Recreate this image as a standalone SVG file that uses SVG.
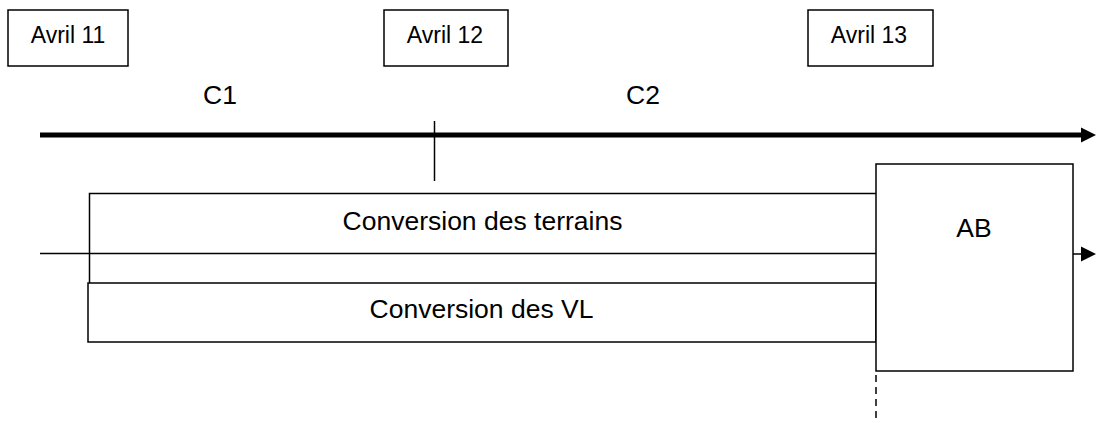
<svg xmlns="http://www.w3.org/2000/svg" width="1096" height="423" viewBox="0 0 1096 423">
<style>
.box{fill:#fff;stroke:#000;stroke-width:1.5}
.ln{stroke:#000;stroke-width:1.5;fill:none}
.t{font-family:"Liberation Sans",Arial,sans-serif;fill:#000;text-anchor:middle}
.s{font-size:23px}
.m{font-size:26.5px}
</style>
<rect width="1096" height="423" fill="#fff"/>
<g id="avril11"><rect class="box" x="8" y="10" width="120" height="56"/><text class="t s" x="68" y="43">Avril 11</text></g>
<g id="avril12"><rect class="box" x="384" y="10" width="124" height="56"/><text class="t s" x="445" y="43">Avril 12</text></g>
<g id="avril13"><rect class="box" x="808" y="10" width="125" height="56"/><text class="t s" x="869" y="43">Avril 13</text></g>
<g id="c1"><text class="t m" x="220" y="104">C1</text></g>
<g id="c2"><text class="t m" x="643" y="104">C2</text></g>
<g id="terrains"><path class="ln" d="M89.5,283 V193.5 H876"/><text class="t m" x="482.5" y="230">Conversion des terrains</text></g>
<g id="vl"><rect class="box" x="88" y="283" width="788" height="59"/><text class="t m" x="481.5" y="318">Conversion des VL</text></g>
<g id="ab"><rect class="box" x="876" y="164" width="197" height="207"/><text class="t m" x="974" y="237">AB</text></g>
<g id="connectors">
<line x1="40" y1="135" x2="1082" y2="135" stroke="#000" stroke-width="5"/>
<polygon points="1081,127.5 1096,135 1081,142.5" fill="#000"/>
<line class="ln" x1="434.5" y1="121" x2="434.5" y2="181"/>
<line class="ln" x1="40" y1="253.5" x2="876" y2="253.5"/>
<line class="ln" x1="1073" y1="254" x2="1082" y2="254"/>
<polygon points="1081,246.5 1096,254 1081,261.5" fill="#000"/>
<line class="ln" x1="876" y1="375" x2="876" y2="423" stroke-dasharray="7,5"/>
</g>
</svg>
